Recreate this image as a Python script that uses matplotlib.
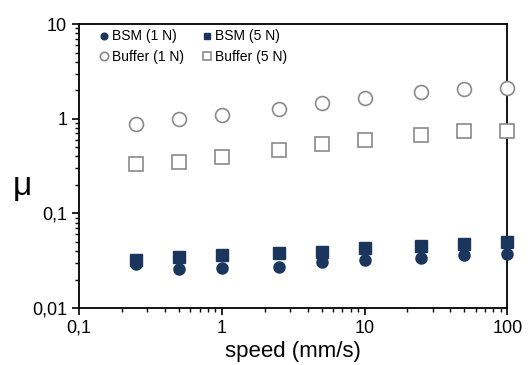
import numpy as np
import matplotlib.pyplot as plt
from matplotlib.ticker import FixedLocator, FixedFormatter, LogLocator, NullFormatter

plt.rcParams['font.family'] = ['Liberation Sans', 'DejaVu Sans']

speed = [0.25, 0.5, 1, 2.5, 5, 10, 25, 50, 100]
bsm_1n = [0.029, 0.026, 0.0268, 0.027, 0.0305, 0.032, 0.034, 0.036, 0.0376]
bsm_5n = [0.032, 0.0344, 0.036, 0.038, 0.039, 0.043, 0.045, 0.0475, 0.0495]
buffer_1n = [0.87, 1.0, 1.09, 1.28, 1.48, 1.67, 1.9, 2.07, 2.1]
buffer_5n = [0.335, 0.35, 0.39, 0.47, 0.54, 0.6, 0.68, 0.75, 0.75]

navy = '#1b365d'
grey = '#8a8a8a'

fig = plt.figure(figsize=(5.32, 3.65), dpi=100)
ax = fig.add_axes([0.1485, 0.156, 0.805, 0.778])

h1, = ax.plot(speed, bsm_1n, 'o', color=navy, ms=8, clip_on=False, zorder=3)
h2, = ax.plot(speed, bsm_5n, 's', color=navy, ms=8, clip_on=False, zorder=3)
h3, = ax.plot(speed, buffer_1n, 'o', mfc='white', mec=grey, mew=1.2, ms=10, clip_on=False, zorder=3)
h4, = ax.plot(speed, buffer_5n, 's', mfc='white', mec=grey, mew=1.2, ms=10, clip_on=False, zorder=3)

ax.set_xscale('log')
ax.set_yscale('log')
ax.set_xlim(0.1, 100)
ax.set_ylim(0.01, 10)

ax.xaxis.set_major_locator(FixedLocator([0.1, 1, 10, 100]))
ax.xaxis.set_major_formatter(FixedFormatter(['0,1', '1', '10', '100']))
ax.yaxis.set_major_locator(FixedLocator([0.01, 0.1, 1, 10]))
ax.yaxis.set_major_formatter(FixedFormatter(['0,01', '0,1', '1', '10']))
ax.xaxis.set_minor_locator(LogLocator(base=10, subs=np.arange(2, 10)))
ax.yaxis.set_minor_locator(LogLocator(base=10, subs=np.arange(2, 10)))
ax.xaxis.set_minor_formatter(NullFormatter())
ax.yaxis.set_minor_formatter(NullFormatter())

ax.tick_params(which='major', direction='out', length=5, width=1.2, labelsize=13)
ax.tick_params(which='minor', direction='out', length=3, width=1)
for s in ax.spines.values():
    s.set_linewidth(1.3)

ax.set_xlabel('speed (mm/s)', fontsize=16, labelpad=3)
fig.text(0.042, 0.49, 'μ', fontsize=24, ha='center', va='center')

leg = ax.legend([h1, h3, h2, h4], ['BSM (1 N)', 'Buffer (1 N)', 'BSM (5 N)', 'Buffer (5 N)'],
                ncol=2, loc='upper left', bbox_to_anchor=(0.01, 1.025), frameon=False,
                fontsize=10, handletextpad=0.0, columnspacing=1.0, markerscale=0.6,
                labelspacing=0.45, handlelength=1.2)

fig.savefig('out.png', dpi=100)
